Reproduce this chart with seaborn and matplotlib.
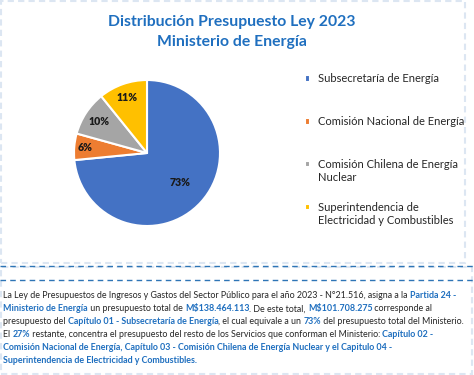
"""
Pie chart of the 2023 budget of the Ministerio de Energía, split by service,
with a dashed text box underneath explaining the numbers.
"""

import matplotlib.pyplot as plt
import numpy as np
import seaborn as sns
from matplotlib.legend_handler import HandlerPatch
from matplotlib.lines import Line2D
from matplotlib.patches import Rectangle, Wedge

# ==============================================================================
# DATA
# ==============================================================================
SERVICES = [
    "Subsecretaría de Energía",
    "Comisión Nacional de Energía",
    "Comisión Chilena de Energía\nNuclear",
    "Superintendencia de\nElectricidad y Combustibles",
]
SHARES = [73.45, 5.85, 9.90, 10.80]
PCT_LABELS = ["73%", "6%", "10%", "11%"]

TITLE = "Distribución Presupuesto Ley 2023\nMinisterio de Energía"

# Paragraph below the chart: one list of (text, highlighted) runs per line
NOTE_LINES = [
    [("La Ley de Presupuestos de Ingresos y Gastos del Sector Público para el año 2023 - N°21.516, asigna a la ", False),
     ("Partida 24 -", True)],
    [("Ministerio de Energía", True), (" un presupuesto total de ", False), ("M$138.464.113", True),
     (". De este total, ", False), ("M$101.708.275", True), (" corresponde al", False)],
    [("presupuesto del ", False), ("Capítulo 01 - Subsecretaría de Energía", True),
     (", el cual equivale a un ", False), ("73%", True), (" del presupuesto total del Ministerio.", False)],
    [("El ", False), ("27%", True), (" restante, concentra el presupuesto del resto de los Servicios que conforman el Ministerio: ", False),
     ("Capítulo 02 -", True)],
    [("Comisión Nacional de Energía, Capítulo 03 - Comisión Chilena de Energía Nuclear y el Capitulo 04 -", True)],
    [("Superintendencia de Electricidad y Combustibles.", True)],
]

# ==============================================================================
# STYLE
# ==============================================================================
COLORS = ["#4472C4", "#ED7D31", "#A5A5A5", "#FFC000"]
LABEL_RADII = [0.61, 0.85, 0.78, 0.81]
BLUE_TEXT = "#1F6FBF"
DARK_TEXT = "#262626"
FONT = ["Lato", "DejaVu Sans"]

W_PX, H_PX = 474, 375


def draw_pie(fig):
    # pie centre at (147, 153) px from top-left, radius 73 px
    cx, cy, r = 147, 153, 73
    ax = fig.add_axes([(cx - r) / W_PX, 1 - (cy + r) / H_PX, 2 * r / W_PX, 2 * r / H_PX])
    wedges, _ = ax.pie(
        SHARES,
        colors=COLORS,
        startangle=90,
        counterclock=False,
        radius=1,
        wedgeprops=dict(edgecolor="white", linewidth=1.5),
    )
    ax.set_xlim(-1, 1)
    ax.set_ylim(-1, 1)
    ax.set_aspect("equal")
    ax.axis("off")

    # percentage labels placed along each wedge's bisector
    for w, lab, rad in zip(wedges, PCT_LABELS, LABEL_RADII):
        mid = np.deg2rad((w.theta1 + w.theta2) / 2)
        ax.text(rad * np.cos(mid), rad * np.sin(mid), lab, ha="center", va="center",
                fontsize=7.6, fontweight="heavy", color="#1A1A1A", family=FONT)
    return wedges


def square_on_first_line(legend, orig_handle, xdescent, ydescent, width, height, fontsize):
    # lift the swatch so it sits beside the first line of a two-line label
    return Rectangle((-xdescent, -ydescent + 0.62 * fontsize), width, height)


def draw_legend(fig, wedges):
    # pad every label to two lines so the entries sit at an even step, as in Excel
    labels = [s if "\n" in s else s + "\n" for s in SERVICES]
    fig.legend(
        wedges,
        labels,
        loc="upper left",
        bbox_to_anchor=(305 / W_PX, 1 - 73 / H_PX),
        frameon=False,
        prop=dict(family=FONT, size=8.0),
        labelcolor=DARK_TEXT,
        handlelength=0.48,
        handleheight=0.48,
        handletextpad=0.7,
        labelspacing=1.72,
        borderaxespad=0,
        borderpad=0,
        handler_map={Wedge: HandlerPatch(patch_func=square_on_first_line)},
    )


def draw_note(fig):
    renderer = fig.canvas.get_renderer()
    y_px = 296
    for line in NOTE_LINES:
        x_px = 3
        for txt, hl in line:
            t = fig.text(
                x_px / W_PX, 1 - y_px / H_PX, txt,
                ha="left", va="center",
                fontsize=6.4, family=FONT,
                fontweight="bold" if hl else "normal",
                color=BLUE_TEXT if hl else DARK_TEXT,
            )
            x_px += t.get_window_extent(renderer).width
        y_px += 12.8


def draw_frames(fig):
    faint = "#DCE6F2"
    dashed = "#2E75B6"
    # faint dashed frame around the chart and the whole picture
    fig.add_artist(Rectangle((1 / W_PX, 1 - 263 / H_PX), 464 / W_PX, 262 / H_PX,
                             transform=fig.transFigure, fill=False, edgecolor=faint,
                             linewidth=1.5, linestyle=(0, (3, 2))))
    fig.add_artist(Rectangle((1 / W_PX, 1 / H_PX), 471 / W_PX, 1 - 268 / H_PX,
                             transform=fig.transFigure, fill=False, edgecolor=faint,
                             linewidth=1.5, linestyle=(0, (3, 2))))
    # two darker dashed separators
    for y in (266, 280):
        fig.add_artist(Line2D([0, 1], [1 - y / H_PX] * 2, transform=fig.transFigure,
                              color=dashed, linewidth=1.0, linestyle=(0, (4, 3))))


def main():
    sns.set_theme(style="white")
    plt.rcParams["font.family"] = FONT

    fig = plt.figure(figsize=(W_PX / 100, H_PX / 100), dpi=100)
    fig.patch.set_facecolor("white")

    fig.text(232 / W_PX, 1 - 32 / H_PX, TITLE, ha="center", va="center",
             fontsize=11.3, fontweight="bold", color=BLUE_TEXT, family=FONT,
             linespacing=1.55)

    wedges = draw_pie(fig)
    draw_legend(fig, wedges)
    draw_frames(fig)
    draw_note(fig)

    fig.savefig("out.png", dpi=100)
    plt.close(fig)


if __name__ == "__main__":
    main()
